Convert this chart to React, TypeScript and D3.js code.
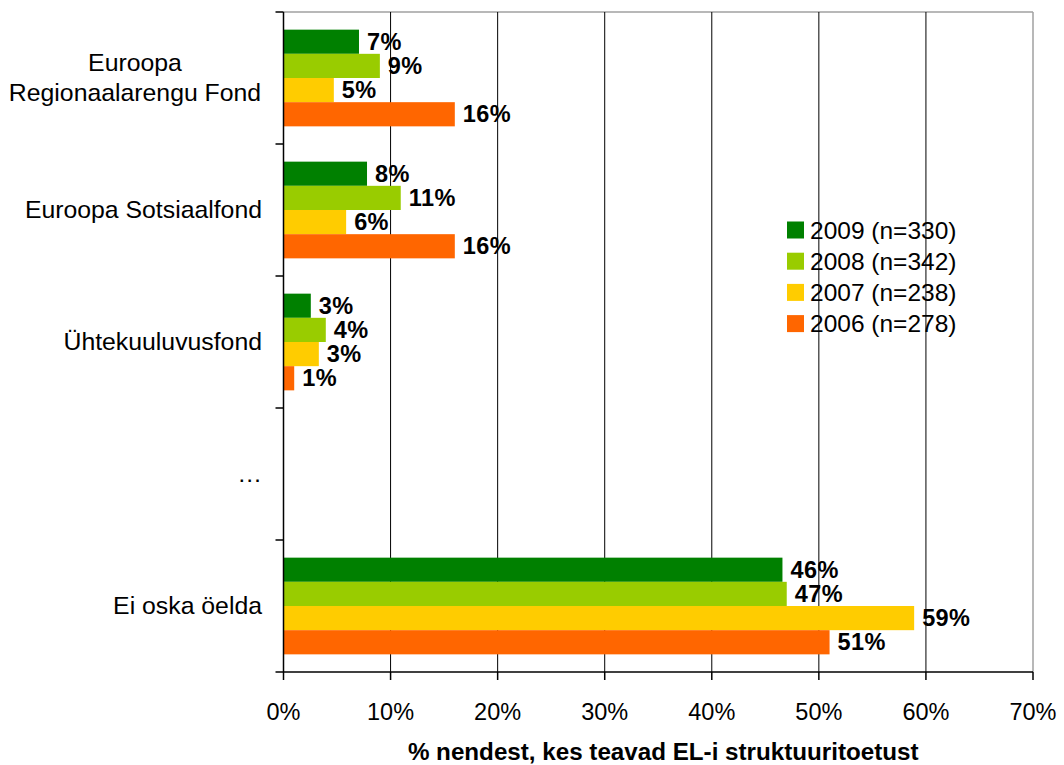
import React from "react";
import * as d3 from "d3";

const categories: string[][] = [
  ["Euroopa", "Regionaalarengu Fond"],
  ["Euroopa Sotsiaalfond"],
  ["Ühtekuuluvusfond"],
  ["…"],
  ["Ei oska öelda"],
];
const seriesNames = ["2009 (n=330)", "2008 (n=342)", "2007 (n=238)", "2006 (n=278)"];
const seriesColors = ["#008000", "#99cc00", "#ffcc00", "#ff6600"];
const v2009: (number | null)[] = [7.05, 7.8, 2.55, null, 46.6];
const v2008: (number | null)[] = [9.0, 10.95, 3.95, null, 47.0];
const v2007: (number | null)[] = [4.7, 5.85, 3.3, null, 58.9];
const v2006: (number | null)[] = [16.0, 16.0, 1.0, null, 51.0];
const labels2009 = ["7%", "8%", "3%", "", "46%"];
const labels2008 = ["9%", "11%", "4%", "", "47%"];
const labels2007 = ["5%", "6%", "3%", "", "59%"];
const labels2006 = ["16%", "16%", "1%", "", "51%"];
const xTicks = [0, 10, 20, 30, 40, 50, 60, 70];
const axisTitle = "% nendest, kes teavad EL-i struktuuritoetust";

const seriesValues = [v2009, v2008, v2007, v2006];
const seriesLabels = [labels2009, labels2008, labels2007, labels2006];

export default function App() {
  const W = 1064, H = 765;
  const left = 283.5, right = 1033, top = 12, bottom = 672;
  const x = d3.scaleLinear().domain([0, 70]).range([left, right]);
  const catIdx = categories.map((_, i) => String(i));
  const y = d3.scaleBand().domain(catIdx).range([top, bottom]).padding(0);
  const inner = d3
    .scaleBand()
    .domain(seriesNames)
    .range([0, y.bandwidth()])
    .paddingInner(0)
    .paddingOuter(0.73);
  const font = "'Liberation Sans', Arial, Helvetica, sans-serif";
  const boundaries = d3.range(categories.length + 1).map((i) => top + i * y.bandwidth());

  return (
    <svg width={W} height={H} style={{ position: "absolute", left: 0, top: 0, background: "#fff" }} fontFamily={font}>
      <rect x={0} y={0} width={W} height={H} fill="#fff" />
      <line x1={left} x2={right} y1={top} y2={top} stroke="#a0a0a0" strokeWidth={1.5} />
      <line x1={right} x2={right} y1={top} y2={bottom} stroke="#a0a0a0" strokeWidth={1.5} />
      {xTicks.slice(1, -1).map((t) => (
        <line key={t} x1={x(t)} x2={x(t)} y1={top} y2={bottom} stroke="#000" strokeWidth={1} />
      ))}
      {seriesNames.map((s, si) =>
        seriesValues[si].map((v, ci) =>
          v == null ? null : (
            <rect
              key={s + ci}
              x={x(0)}
              y={(y(String(ci)) as number) + (inner(s) as number)}
              width={x(v) - x(0)}
              height={inner.bandwidth()}
              fill={seriesColors[si]}
            />
          )
        )
      )}
      {seriesNames.map((s, si) =>
        seriesValues[si].map((v, ci) =>
          v == null ? null : (
            <text
              key={"l" + s + ci}
              x={x(v) + 8}
              y={(y(String(ci)) as number) + (inner(s) as number) + inner.bandwidth() / 2 + 8}
              fontSize={23.5}
              fontWeight="bold"
              letterSpacing={0.4}
              fill="#000"
            >
              {seriesLabels[si][ci]}
            </text>
          )
        )
      )}
      <line x1={left} x2={left} y1={top} y2={bottom} stroke="#000" strokeWidth={1.5} />
      <line x1={left} x2={right} y1={bottom} y2={bottom} stroke="#000" strokeWidth={1.5} />
      {boundaries.map((b, i) => (
        <line key={"yt" + i} x1={left - 8} x2={left} y1={b} y2={b} stroke="#000" strokeWidth={1.5} />
      ))}
      {xTicks.map((t) => (
        <g key={"xt" + t}>
          <line x1={x(t)} x2={x(t)} y1={bottom} y2={bottom + 8} stroke="#000" strokeWidth={1.5} />
          <text x={x(t)} y={bottom + 48} fontSize={23.5} textAnchor="middle" fill="#000">
            {t + "%"}
          </text>
        </g>
      ))}
      {categories.map((lines, ci) => {
        const cy = (y(String(ci)) as number) + y.bandwidth() / 2;
        const lh = 30;
        const n = lines.length;
        const maxW = n > 1 ? 254 : 0;
        return lines.map((ln, li) => (
          <text
            key={"c" + ci + li}
            x={n > 1 ? 262 - maxW / 2 : 262}
            y={cy + (li - (n - 1) / 2) * lh + 8}
            fontSize={24.8}
            textAnchor={n > 1 ? "middle" : "end"}
            fill="#000"
          >
            {ln}
          </text>
        ));
      })}
      {seriesNames.map((s, si) => (
        <g key={"lg" + s} transform={`translate(787, ${221.5 + si * 31.2})`}>
          <rect x={0} y={0} width={17} height={17} fill={seriesColors[si]} />
          <text x={23} y={17} fontSize={24.5} fill="#000">
            {s}
          </text>
        </g>
      ))}
      <text x={(left + right) / 2 + 5} y={760} fontSize={24.2} fontWeight="bold" textAnchor="middle" fill="#000">
        {axisTitle}
      </text>
    </svg>
  );
}
